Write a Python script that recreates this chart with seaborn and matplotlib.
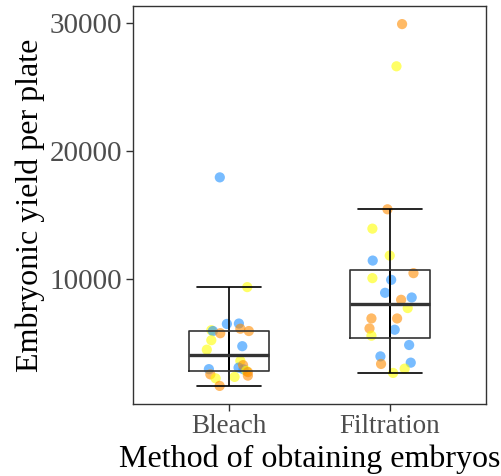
import numpy as np
import pandas as pd
import matplotlib
matplotlib.use("Agg")
import matplotlib.pyplot as plt
import seaborn as sns

# ------------------------ DATA ------------------------

methods = ["Bleach", "Filtration"]

bleach_yield = [17945, 9352, 6469, 6500, 5977, 5914, 5742, 6094, 5914, 5195,
                4727, 4453, 3578, 3047, 2914, 3242, 2800, 2700, 2422, 2930,
                2523, 2211, 2320, 1617]
bleach_group = ["blue", "yellow", "blue", "blue", "yellow", "blue", "orange", "orange", "orange", "yellow",
                "blue", "yellow", "yellow", "blue", "blue", "orange", "yellow", "orange", "orange", "blue",
                "orange", "yellow", "yellow", "orange"]
bleach_jitter = [-0.059, 0.112, -0.015, 0.060, -0.112, -0.102, -0.056, 0.069, 0.122, -0.112,
                 0.081, -0.140, 0.069, 0.058, 0.089, 0.086, 0.106, 0.116, 0.116, -0.127,
                 -0.118, -0.085, 0.033, -0.060]

filtration_yield = [29945, 26641, 15445, 13930, 11430, 11820, 10055, 9922, 10445, 8906,
                    8539, 8359, 7711, 6898, 6898, 6117, 5547, 6016, 4820, 3930,
                    3336, 3438, 2969, 2633]
filtration_group = ["orange", "yellow", "orange", "yellow", "blue", "yellow", "yellow", "blue", "orange", "blue",
                    "blue", "orange", "yellow", "orange", "orange", "orange", "yellow", "blue", "blue", "blue",
                    "orange", "blue", "yellow", "yellow"]
filtration_jitter = [0.077, 0.042, -0.014, -0.108, -0.106, 0.0, -0.108, 0.009, 0.148, -0.029,
                     0.137, 0.071, 0.112, -0.114, 0.046, -0.126, -0.114, 0.031, 0.121, -0.058,
                     -0.054, 0.131, 0.093, 0.021]

palette = {"blue": "#1E90FF", "orange": "#FF8C00", "yellow": "#FFFF00"}

df = pd.concat([
    pd.DataFrame({"method": "Bleach", "yield": bleach_yield,
                  "group": bleach_group, "jitter": bleach_jitter}),
    pd.DataFrame({"method": "Filtration", "yield": filtration_yield,
                  "group": filtration_group, "jitter": filtration_jitter}),
], ignore_index=True)
df["xpos"] = df["method"].map({m: i for i, m in enumerate(methods)}) + df["jitter"]

# ------------------------ PLOT ------------------------

sns.set_theme(style="white")
plt.rcParams["font.family"] = ["Liberation Serif", "DejaVu Serif"]

fig = plt.figure(figsize=(5.01, 4.76), dpi=100)
ax = fig.add_axes([133 / 501, 1 - 404 / 476, 353 / 501, 398 / 476])

sns.scatterplot(data=df, x="xpos", y="yield", hue="group", palette=palette,
                s=54, alpha=0.6, linewidth=0, legend=False, ax=ax, zorder=2)

# whisker line + caps (errorbar style, runs through the box)
sns.boxplot(data=df, x="method", y="yield", order=methods, width=0, fill=False,
            color="black", linecolor="black", showfliers=False, linewidth=1.2,
            capwidths=0.4, ax=ax, zorder=3)
# box and median
sns.boxplot(data=df, x="method", y="yield", order=methods, width=0.5, fill=False,
            color="#333333", linecolor="#333333", showfliers=False, showcaps=False,
            linewidth=1.2, whiskerprops={"visible": False},
            medianprops={"linewidth": 2.4}, ax=ax, zorder=4)

lo, hi = df["yield"].min(), df["yield"].max()
pad = 0.05 * (hi - lo)
ax.set_ylim(lo - pad, hi + pad)
ax.set_xlim(-0.6, 1.6)
ax.set_yticks([10000, 20000, 30000])
ax.set_yticklabels(["10000", "20000", "30000"])
ax.set_xticks([0, 1])
ax.set_xticklabels(methods)

ax.tick_params(axis="both", length=5, width=1, color="#333333", labelcolor="#4D4D4D",
               pad=2, bottom=True, left=True)
ax.tick_params(axis="y", labelsize=21, pad=3)
ax.tick_params(axis="x", labelsize=19.5)
for sp in ax.spines.values():
    sp.set_color("#333333")
    sp.set_linewidth(1)
ax.grid(False)

ax.set_xlabel("Method of obtaining embryos", fontsize=23, color="black", labelpad=4)
ax.set_ylabel("Embryonic yield per plate", fontsize=23, color="black", labelpad=3)

fig.savefig("out.png", dpi=100, facecolor="white")
